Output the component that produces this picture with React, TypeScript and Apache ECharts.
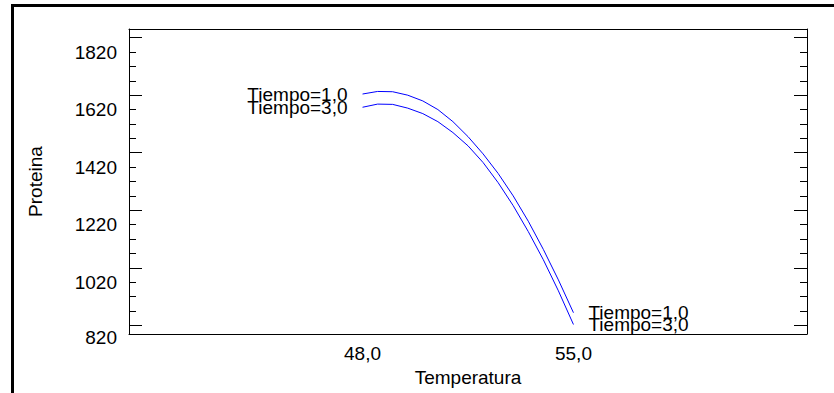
import React, { useEffect, useRef } from "react";
import * as echarts from "echarts";

// Data
const temperature = [48, 48.5, 49, 49.5, 50, 50.5, 51, 51.5, 52, 52.5, 53, 53.5, 54, 54.5, 55];
const tiempo1 = [1674, 1683, 1682, 1670, 1650, 1620, 1578, 1526, 1466, 1398, 1320, 1232, 1134, 1028, 914];
const tiempo3 = [1628, 1639, 1638, 1625, 1606, 1578, 1540, 1494, 1436, 1366, 1286, 1196, 1098, 990, 873];
const seriesNames = ["Tiempo=1,0", "Tiempo=3,0"];

const xTickLabels = [48, 55];
const yTickLabels = [820, 1020, 1220, 1420, 1620, 1820];
const yMajorTicks = [870, 1070, 1270, 1470, 1670, 1870];
const yMinorTicks = [920, 970, 1020, 1120, 1170, 1220, 1320, 1370, 1420, 1520, 1570, 1620, 1720, 1770, 1820];

const X_MIN = 40.25;
const X_MAX = 62.75;
const Y_MIN = 840;
const Y_MAX = 1900;

const FONT = "'Liberation Sans', Arial, sans-serif";
const FS = 19;

const GRID = { left: 129, top: 29, right: 27, bottom: 59 };
const W = 834;
const H = 393;

function comma(v: number) {
  return v.toFixed(1).replace(".", ",");
}

function buildData(vals: number[]) {
  const last = vals.length - 1;
  return temperature.map((t, i) => {
    const item: any = { value: [t, vals[i]] };
    if (i === 0) item.label = { show: true, position: "left", distance: 15 };
    else if (i === last) item.label = { show: true, position: "right", distance: 15 };
    return item;
  });
}

export default function App() {
  const ref = useRef<HTMLDivElement>(null);
  useEffect(() => {
    if (!ref.current) return;
    const chart = echarts.init(ref.current, null, { renderer: "svg" });
    const inRange = yTickLabels.filter((v) => v >= Y_MIN && v <= Y_MAX);
    const below = yTickLabels.filter((v) => v < Y_MIN);
    const plotBottom = H - GRID.bottom;

    const baseY = (position: string, ticks: number[], len: number, extra: any = {}) => ({
      type: "value",
      position,
      min: Y_MIN,
      max: Y_MAX,
      splitLine: { show: false },
      axisLine: { show: false },
      axisLabel: { show: false },
      axisTick: {
        show: true,
        inside: true,
        length: len,
        customValues: ticks,
        lineStyle: { color: "#000", width: 1 },
      },
      ...extra,
    });

    const lineStyleBlack = { show: true, lineStyle: { color: "#000", width: 1 } };

    chart.setOption({
      animation: false,
      backgroundColor: "#fff",
      textStyle: { fontFamily: FONT },
      grid: { ...GRID, containLabel: false },
      xAxis: [
        {
          type: "value",
          position: "bottom",
          min: X_MIN,
          max: X_MAX,
          splitLine: { show: false },
          axisLine: lineStyleBlack,
          axisTick: { show: false },
          axisLabel: {
            show: true,
            customValues: xTickLabels,
            formatter: (v: number) => comma(v),
            color: "#000",
            fontFamily: FONT,
            fontSize: FS,
            margin: 10,
          },
          name: "Temperatura",
          nameLocation: "middle",
          nameGap: 27,
          nameTextStyle: { color: "#000", fontFamily: FONT, fontSize: FS },
        },
        {
          type: "value",
          position: "top",
          min: X_MIN,
          max: X_MAX,
          splitLine: { show: false },
          axisLine: lineStyleBlack,
          axisTick: { show: false },
          axisLabel: { show: false },
        },
      ],
      yAxis: [
        baseY("left", yMajorTicks, 13, {
          axisLine: lineStyleBlack,
          axisLabel: {
            show: true,
            customValues: inRange,
            formatter: (v: number) => String(v),
            color: "#000",
            fontFamily: FONT,
            fontSize: FS,
            margin: 12,
          },
          name: "Proteina",
          nameLocation: "middle",
          nameGap: 84,
          nameTextStyle: { color: "#000", fontFamily: FONT, fontSize: FS },
        }),
        baseY("left", yMinorTicks, 7),
        baseY("right", yMajorTicks, 13, { axisLine: lineStyleBlack }),
        baseY("right", yMinorTicks, 7),
      ],
      graphic: [
        {
          type: "rect",
          shape: { x: 12.5, y: 5.5, width: 1000, height: 600 },
          style: { fill: "none", stroke: "#000", lineWidth: 3 },
          silent: true,
        },
        ...below.map((v) => ({
          type: "text",
          x: GRID.left - 12,
          y: plotBottom + 3,
          style: {
            text: String(v),
            fill: "#000",
            font: `${FS}px ${FONT}`,
            textAlign: "right",
            textVerticalAlign: "middle",
          },
          silent: true,
        })),
      ],
      series: [tiempo1, tiempo3].map((vals, i) => ({
        type: "line",
        name: seriesNames[i],
        xAxisIndex: 0,
        yAxisIndex: 0,
        data: buildData(vals),
        showSymbol: true,
        symbol: "circle",
        symbolSize: 0,
        smooth: false,
        lineStyle: { color: "#0000ff", width: 1 },
        itemStyle: { color: "#0000ff" },
        label: {
          show: false,
          formatter: () => seriesNames[i],
          color: "#000",
          fontFamily: FONT,
          fontSize: FS,
        },
        emphasis: { disabled: true },
      })),
    });
    return () => chart.dispose();
  }, []);
  return (
    <div
      ref={ref}
      style={{ position: "absolute", left: 0, top: 0, width: W, height: H }}
    />
  );
}
